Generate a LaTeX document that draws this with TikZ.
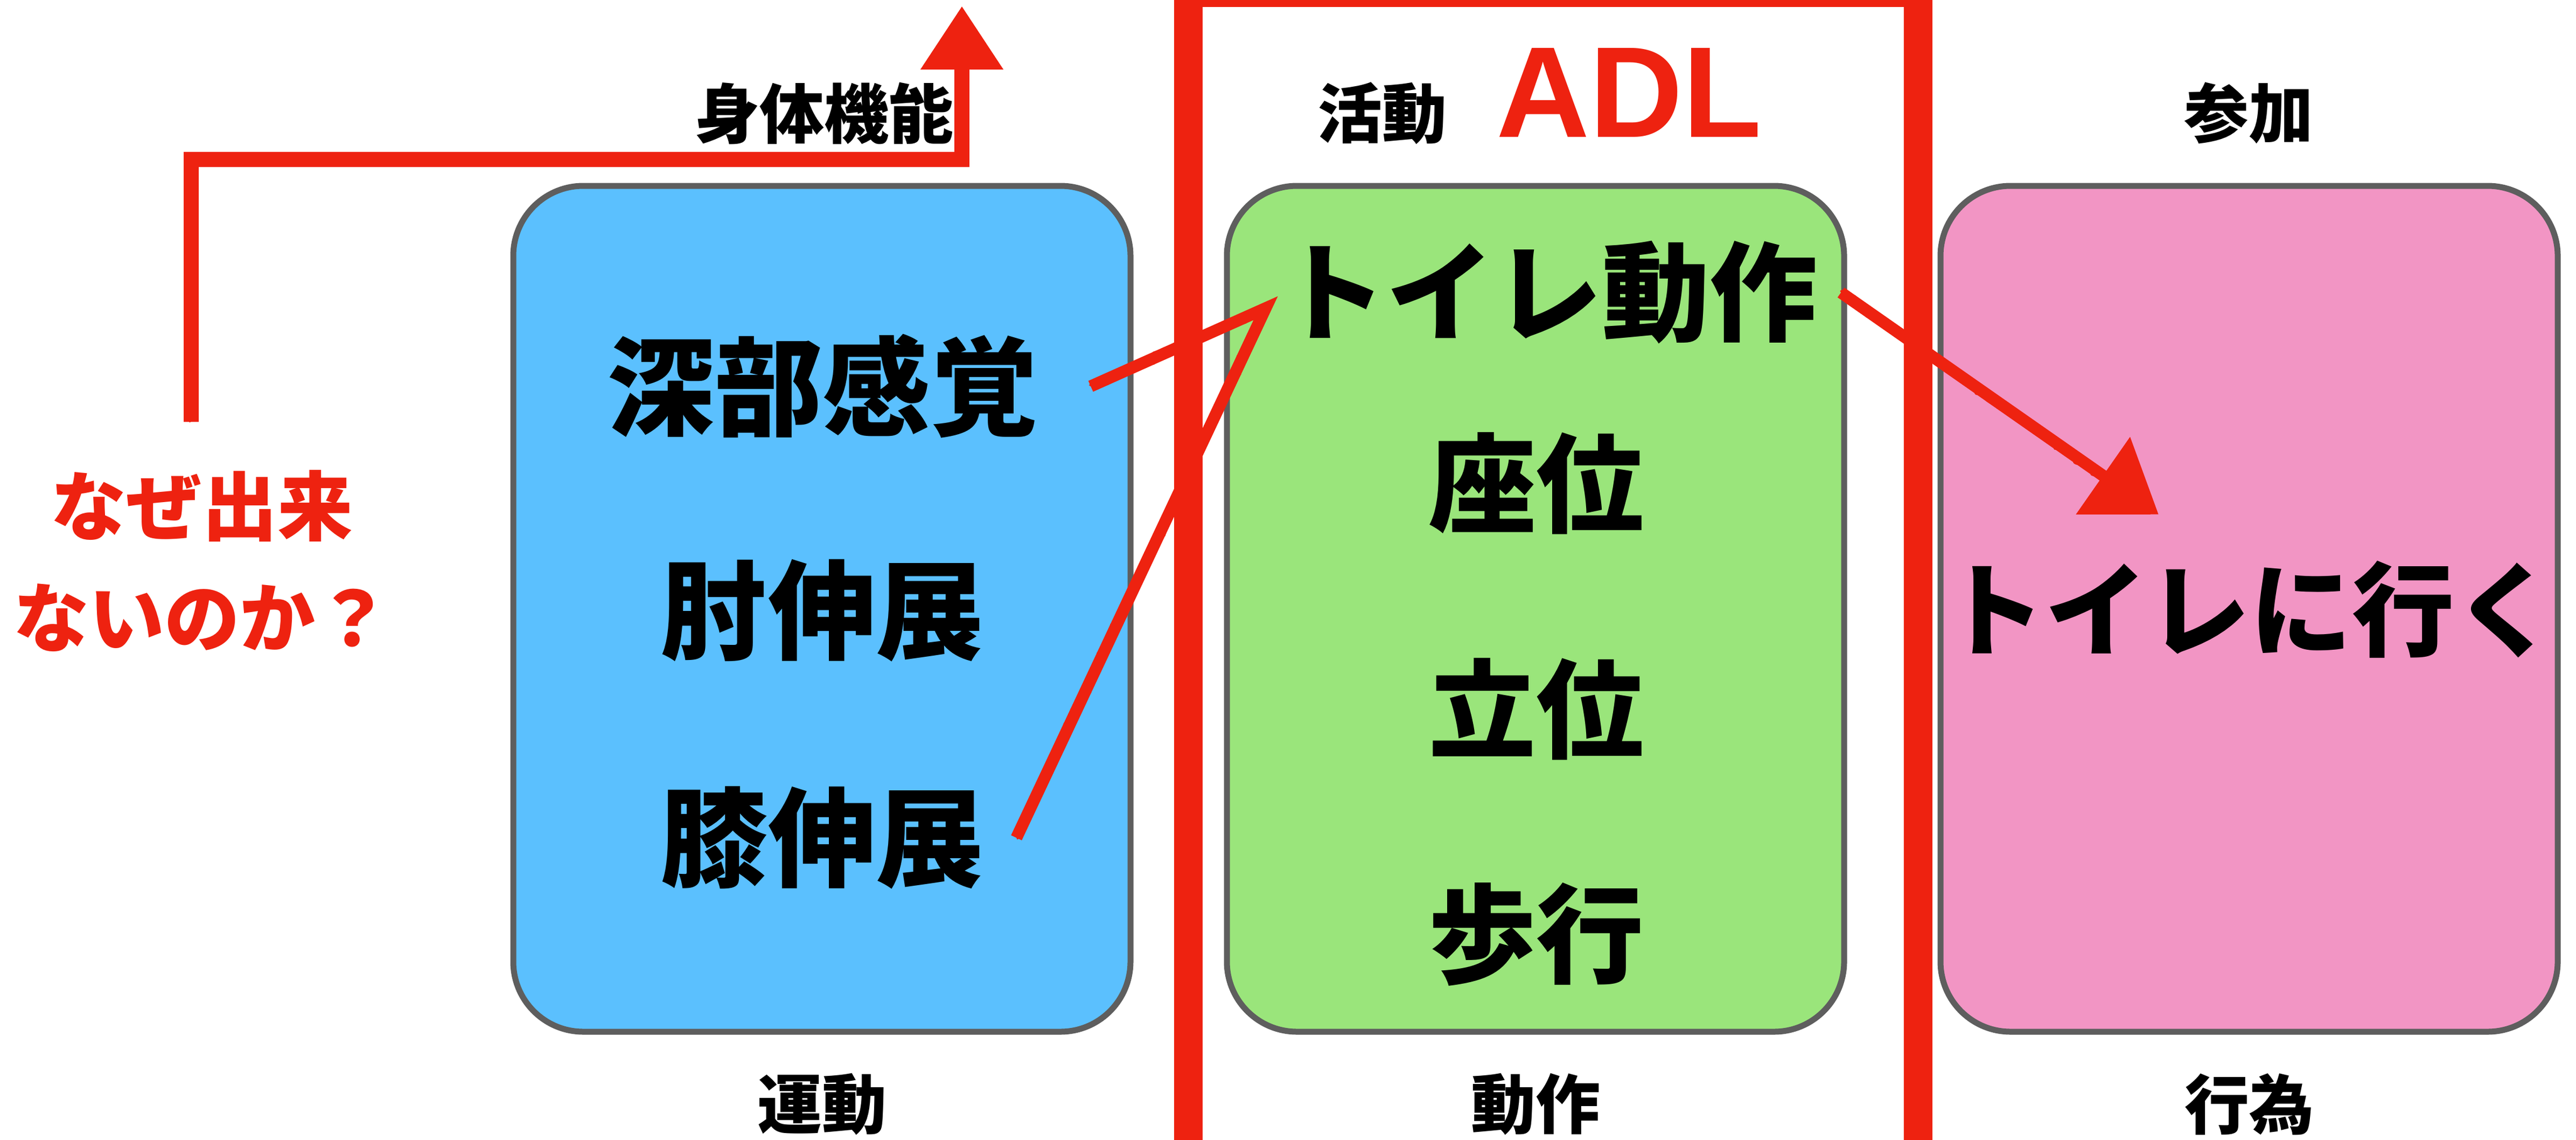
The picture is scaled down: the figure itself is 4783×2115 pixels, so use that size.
\documentclass[tikz,border=0pt]{standalone}
\usepackage{fontspec}
\setmainfont{Liberation Sans}
\newfontfamily\jp{Noto Sans CJK JP}
\usetikzlibrary{arrows.meta,decorations.pathmorphing}
\definecolor{boxblue}{RGB}{91,192,254}
\definecolor{boxgreen}{RGB}{154,229,123}
\definecolor{boxpink}{RGB}{242,149,196}
\definecolor{edgegray}{RGB}{94,94,94}
\definecolor{markred}{RGB}{238,34,16}
\begin{document}
\begin{tikzpicture}[x=1pt,y=-1pt,
  panel/.style={draw=edgegray,line width=11pt,rounded corners=130pt},
  bigtext/.style={inner sep=0pt,font=\jp\bfseries\fontsize{200}{240}\selectfont},
  labeltext/.style={inner sep=0pt,font=\jp\bfseries\fontsize{120}{144}\selectfont},
  whytext/.style={inner sep=0pt,align=center,text=markred,font=\jp\bfseries\fontsize{140}{207}\selectfont},
  adltext/.style={inner sep=0pt,text=markred,font=\bfseries\fontsize{240}{288}\selectfont},
  redline/.style={draw=markred,line join=miter,line cap=butt},
  roughline/.style={draw=markred,line width=7pt,line join=round,decorate,
    decoration={random steps,segment length=6pt,amplitude=8pt}}]
\pgfmathsetseed{7}
\useasboundingbox (0,0) rectangle (4783,2115);
\fill[white] (0,0) rectangle (4783,2115);
% panels
\draw[panel,fill=boxblue] (953,345) rectangle (2099,1915);
\draw[panel,fill=boxgreen] (2278,345) rectangle (3424,1915);
\draw[panel,fill=boxpink] (3603,345) rectangle (4749,1915);
% ADL frame
\draw[markred,line width=53pt] (2206,-14) rectangle (3561,2200);
% labels
\node[labeltext] (lbody) at (1530,211) {身体機能};
\node[labeltext] (lact) at (2566,210) {活動};
\node[adltext] (adl) at (3025,172) {ADL};
\node[labeltext] (lpart) at (4175,210) {参加};
\node[labeltext] (lmove) at (1526,2050) {運動};
\node[labeltext] (lmotion) at (2851,2050) {動作};
\node[labeltext] (lact2) at (4176,2050) {行為};
% contents
\node[bigtext] (deep) at (1527,717) {深部感覚};
\node[bigtext] (elbow) at (1526,1133) {肘伸展};
\node[bigtext] (knee) at (1526,1555) {膝伸展};
\node[bigtext] (toilet) at (2874,543) {トイレ動作};
\node[bigtext] (sit) at (2852,897) {座位};
\node[bigtext] (stand) at (2852,1316) {立位};
\node[bigtext] (walk) at (2852,1734) {歩行};
\node[bigtext,font=\jp\bfseries\fontsize{190}{228}\selectfont] (go) at (4177,1131) {トイレに行く};
\node[whytext] (why) at (375,1041) {なぜ出来\\ないのか？};
% connectors
\coordinate (whystart) at (355,783);
\coordinate (uptip) at (1786,11);
\coordinate (upcorner) at (1786,296);
\coordinate (meet) at (2350,572);
\coordinate (gotip) at (4008,955);
\coordinate (gobase) at (3904,884);
\draw[redline,line width=28pt,-{Triangle[length=118pt,width=146pt]}]
  (whystart) |- (upcorner) -- (uptip);
\draw[roughline] (whystart) |- (upcorner) -- ([yshift=150pt]upcorner);
\draw[redline,line width=22pt]
  ([xshift=98pt]deep.east) -- (meet) -- ([xshift=61pt]knee.east);
\draw[roughline] ([xshift=98pt]deep.east) -- (meet) -- ([xshift=61pt]knee.east);
\draw[redline,line width=22pt,-{Triangle[length=126pt,width=170pt]}]
  ([xshift=44pt]toilet.east) -- (gotip);
\draw[roughline] ([xshift=44pt]toilet.east) -- (gobase);
\end{tikzpicture}
\end{document}
